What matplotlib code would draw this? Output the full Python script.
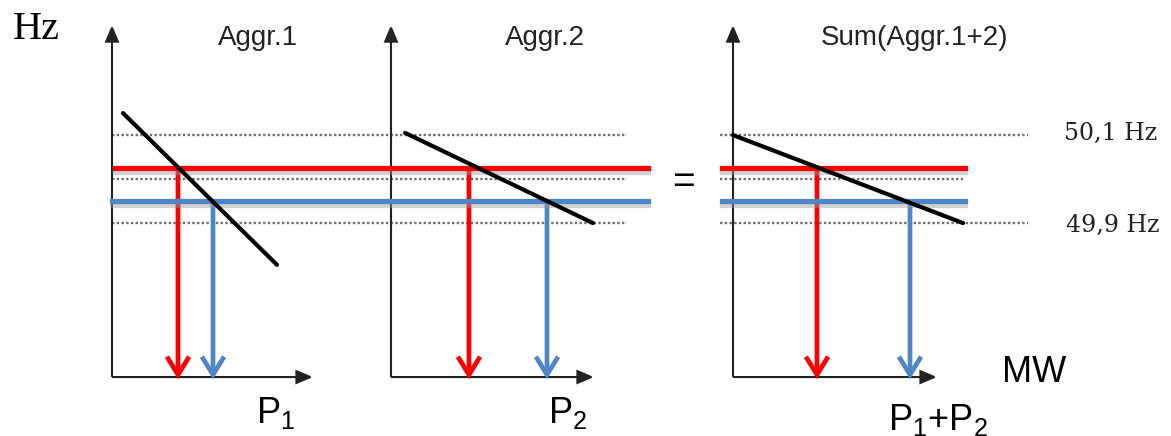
import matplotlib
matplotlib.use("Agg")
import matplotlib.pyplot as plt
from matplotlib import patheffects as pe
from matplotlib.patches import FancyArrowPatch

# frequency levels (Hz)
BANDS_HZ = [50.1, 50.0, 49.9]
BAND_TEXT = {50.1: "50,1 Hz", 49.9: "49,9 Hz"}
F_RED = 50.025
F_BLUE = 49.95
HZ_AXIS = (49.55, 50.35)

# panels
PANELS = ["Aggr.1", "Aggr.2", "Sum(Aggr.1+2)"]
P_LABELS = ["P$_1$", "P$_2$", "P$_1$+P$_2$"]
DROOP_MW = [(0.11, 1.65), (0.14, 2.02), (0.00, 2.30)]
DROOP_HZ = [(50.15, 49.805), (50.105, 49.90), (50.10, 49.90)]
P_RED = [0.66, 0.78, 0.84]
P_BLUE = [1.01, 1.56, 1.77]
MW_AXIS = [2.01, 2.03, 2.04]

# layout (x in 1/100 px, panel origins)
X0 = [1.12, 3.91, 7.33]
RED, BLUE, GRID = "#ff0000", "#4f86c6", "#6e6e6e"
plt.rcParams["mathtext.default"] = "regular"
SANS = "Liberation Sans"

fig = plt.figure(figsize=(11.71, 4.36), dpi=100)
ax = fig.add_axes([0, 0, 1, 1])
ax.set_xlim(0, 11.71); ax.set_ylim(49.416, 50.407); ax.axis("off")

def arrow(p0, p1, style, color, lw, z=3):
    ax.add_patch(FancyArrowPatch(p0, p1, arrowstyle=style, color=color, lw=lw, mutation_scale=1,
                                 shrinkA=0, shrinkB=0, zorder=z, joinstyle="miter", capstyle="butt"))

shadow = [pe.SimpleLineShadow(offset=(0, -2.5), shadow_color="#999999", alpha=0.45), pe.Normal()]

# dotted reference levels
for hz in BANDS_HZ:
    ax.plot([X0[0], X0[0] + 5.15], [hz, hz], color=GRID, lw=1.7, ls=(0, (1, 1)), zorder=1)
    ax.plot([X0[2] - 0.13, X0[2] + (2.30 if hz == 50.0 else 2.95)], [hz, hz], color=GRID, lw=1.7, ls=(0, (1, 1)), zorder=1)

# red / blue operating frequencies
ax.plot([X0[0] + 0.03, X0[0] + 5.36], [F_RED, F_RED], color=RED, lw=3.8, zorder=4, path_effects=shadow)
ax.plot([X0[0], X0[0] + 5.36], [F_BLUE, F_BLUE], color=BLUE, lw=3.8, zorder=4, path_effects=shadow)
ax.plot([X0[2] - 0.11, X0[2] + 2.32], [F_RED, F_RED], color=RED, lw=3.8, zorder=4, path_effects=shadow)
ax.plot([X0[2] - 0.11, X0[2] + 2.32], [F_BLUE, F_BLUE], color=BLUE, lw=3.8, zorder=4, path_effects=shadow)

for i, x0 in enumerate(X0):
    # axes
    arrow((x0, HZ_AXIS[0]), (x0, HZ_AXIS[1]), "-|>,head_length=10,head_width=4.2", "#222222", 1.5, 2)
    arrow((x0, HZ_AXIS[0]), (x0 + MW_AXIS[i], HZ_AXIS[0]), "-|>,head_length=10,head_width=4.2", "#222222", 1.5, 2)
    # droop characteristic
    ax.plot([x0 + DROOP_MW[i][0], x0 + DROOP_MW[i][1]], DROOP_HZ[i], color="black", lw=3.0,
            solid_capstyle="round", zorder=5)
    # power arrows
    arrow((x0 + P_RED[i], F_RED), (x0 + P_RED[i], HZ_AXIS[0] - 0.005), "->,head_length=13,head_width=8", RED, 3.4, 3)
    arrow((x0 + P_BLUE[i], F_BLUE), (x0 + P_BLUE[i], HZ_AXIS[0] - 0.005), "->,head_length=13,head_width=8", BLUE, 3.4, 3)

T = ax.transAxes
W, H = 1171, 436
def tx(x, y, s, **kw):
    ax.text(x / W, 1 - y / H, s, transform=T, **kw)

tx(13, 39, "Hz", family="Liberation Serif", fontsize=29, va="baseline")
for s, xc in zip(PANELS, [258, 545, 915]):
    tx(xc, 45, s, family=SANS, fontsize=20, ha="center", va="baseline", color="#222222")
for s, xl, yb in zip(P_LABELS, [256, 548, 888], [423, 423, 430]):
    tx(xl, yb, s, family=SANS, fontsize=26, va="baseline")
tx(1002, 382, "MW", family=SANS, fontsize=26, va="baseline")
tx(683, 183, "=", family=SANS, fontsize=28, ha="center", va="center")
tx(1064, 140, BAND_TEXT[50.1], family="DejaVu Serif", fontsize=17, va="baseline", color="#222222")
tx(1066, 232, BAND_TEXT[49.9], family="DejaVu Serif", fontsize=17, va="baseline", color="#222222")

fig.savefig("out.png", dpi=100)
